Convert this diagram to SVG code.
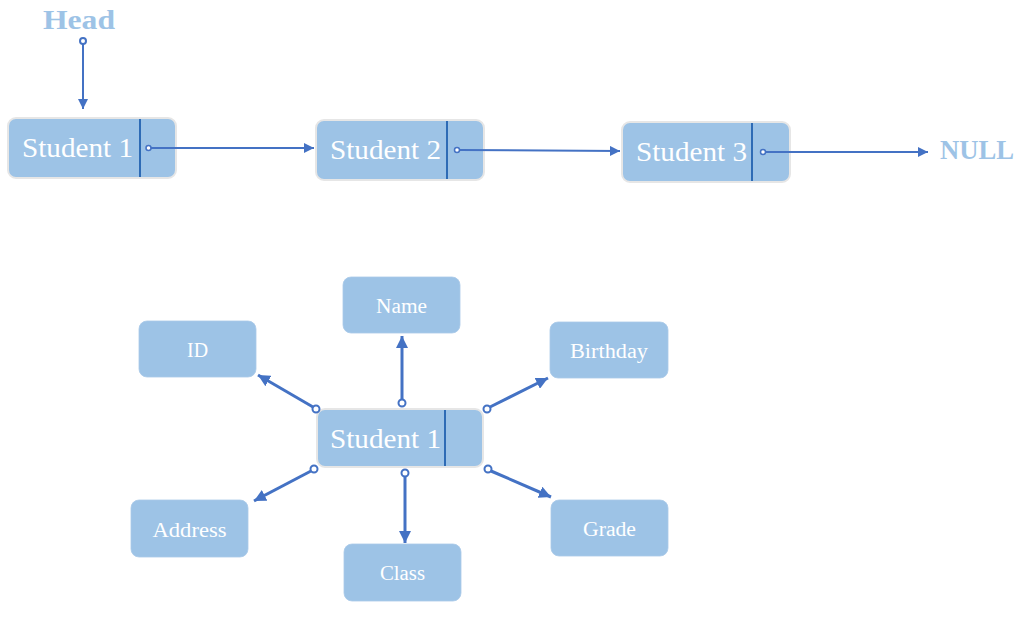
<svg xmlns="http://www.w3.org/2000/svg" width="1020" height="623" viewBox="0 0 1020 623">
<style>
.box{fill:#9dc3e6;stroke:#e6e6e6;stroke-width:2}
.attr{fill:#9dc3e6;stroke:#a9c9e8;stroke-width:0.8}
.div{stroke:#2e6bb5;stroke-width:2}
.big{font-family:"Liberation Serif","DejaVu Serif",serif;font-size:28px;fill:#ffffff}
.small{font-family:"Liberation Serif","DejaVu Serif",serif;font-size:20px;fill:#ffffff;text-anchor:middle}
.lbl{font-family:"Liberation Serif","DejaVu Serif",serif;font-size:28px;font-weight:bold;fill:#9dc3e6}
.ln{stroke:#4472c4;stroke-width:2;fill:none}
.ln3{stroke:#4472c4;stroke-width:3;fill:none}
.dot{fill:#ffffff;stroke:#4472c4;stroke-width:1.5}
.dot2{fill:#ffffff;stroke:#4472c4;stroke-width:2}
</style>
<defs>
<marker id="ah" viewBox="0 0 10 10" refX="10" refY="5" markerWidth="5" markerHeight="5" orient="auto" markerUnits="strokeWidth">
<path d="M0,0 L10,5 L0,10 Z" fill="#4472c4"/>
</marker>
<marker id="ah3" viewBox="0 0 10 10" refX="10" refY="5" markerWidth="4" markerHeight="4" orient="auto" markerUnits="strokeWidth">
<path d="M0,0 L10,5 L0,10 Z" fill="#4472c4"/>
</marker>
</defs>

<g id="head"><text class="lbl" x="43" y="29" textLength="72" lengthAdjust="spacingAndGlyphs">Head</text></g>
<g id="null"><text class="lbl" x="940" y="159" textLength="74" lengthAdjust="spacingAndGlyphs">NULL</text></g>

<g id="s1"><rect class="box" x="8" y="118" width="168" height="60" rx="8"/><line class="div" x1="140" y1="119" x2="140" y2="177"/><text class="big" x="22" y="157" textLength="111" lengthAdjust="spacingAndGlyphs">Student 1</text></g>
<g id="s2"><rect class="box" x="316" y="120" width="168" height="60" rx="8"/><line class="div" x1="447" y1="121" x2="447" y2="179"/><text class="big" x="330" y="159" textLength="111" lengthAdjust="spacingAndGlyphs">Student 2</text></g>
<g id="s3"><rect class="box" x="622" y="122" width="168" height="60" rx="8"/><line class="div" x1="752" y1="123" x2="752" y2="181"/><text class="big" x="636" y="161" textLength="111" lengthAdjust="spacingAndGlyphs">Student 3</text></g>

<g id="c"><rect class="box" x="317" y="409" width="166" height="58" rx="8"/><line class="div" x1="445" y1="410" x2="445" y2="466"/><text class="big" x="330" y="448" textLength="111" lengthAdjust="spacingAndGlyphs">Student 1</text></g>

<g id="name"><rect class="attr" x="343" y="277" width="117" height="56" rx="8"/><text class="small" x="401.5" y="313" textLength="51" lengthAdjust="spacingAndGlyphs">Name</text></g>
<g id="id"><rect class="attr" x="139" y="321" width="117" height="56" rx="8"/><text class="small" x="197.5" y="357" textLength="21" lengthAdjust="spacingAndGlyphs">ID</text></g>
<g id="birthday"><rect class="attr" x="550" y="322" width="118" height="56" rx="8"/><text class="small" x="609" y="358" textLength="78" lengthAdjust="spacingAndGlyphs">Birthday</text></g>
<g id="address"><rect class="attr" x="131" y="500" width="117" height="57" rx="8"/><text class="small" x="189.5" y="537" textLength="74" lengthAdjust="spacingAndGlyphs">Address</text></g>
<g id="class"><rect class="attr" x="344" y="544" width="117" height="57" rx="8"/><text class="small" x="402.5" y="580" textLength="45" lengthAdjust="spacingAndGlyphs">Class</text></g>
<g id="grade"><rect class="attr" x="551" y="500" width="117" height="56" rx="8"/><text class="small" x="609.5" y="536" textLength="53" lengthAdjust="spacingAndGlyphs">Grade</text></g>

<g id="connectors">
<line class="ln" x1="83" y1="44" x2="83" y2="109" marker-end="url(#ah)"/>
<circle class="dot2" cx="83" cy="41" r="3"/>
<line class="ln" x1="151" y1="148" x2="314" y2="148" marker-end="url(#ah)"/>
<circle class="dot" cx="148.5" cy="148" r="2.5"/>
<line class="ln" x1="460" y1="150" x2="620" y2="151" marker-end="url(#ah)"/>
<circle class="dot" cx="457" cy="150" r="2.5"/>
<line class="ln" x1="766" y1="152" x2="928" y2="152" marker-end="url(#ah)"/>
<circle class="dot" cx="763" cy="152" r="2.5"/>

<line class="ln3" x1="402" y1="399" x2="402" y2="336" marker-end="url(#ah3)"/>
<circle class="dot2" cx="402" cy="403" r="3.5"/>
<line class="ln3" x1="313" y1="407" x2="258" y2="375" marker-end="url(#ah3)"/>
<circle class="dot2" cx="316" cy="409" r="3.5"/>
<line class="ln3" x1="490" y1="407" x2="548" y2="378" marker-end="url(#ah3)"/>
<circle class="dot2" cx="487" cy="409" r="3.5"/>
<line class="ln3" x1="311" y1="471" x2="254" y2="501" marker-end="url(#ah3)"/>
<circle class="dot2" cx="314" cy="469" r="3.5"/>
<line class="ln3" x1="405" y1="477" x2="405" y2="543" marker-end="url(#ah3)"/>
<circle class="dot2" cx="405" cy="473" r="3.5"/>
<line class="ln3" x1="491" y1="471" x2="551" y2="497" marker-end="url(#ah3)"/>
<circle class="dot2" cx="488" cy="469" r="3.5"/>
</g>
</svg>
